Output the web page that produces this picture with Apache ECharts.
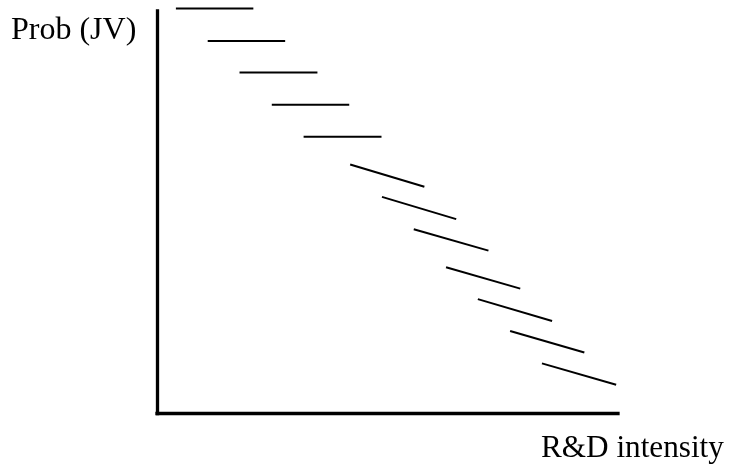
<!DOCTYPE html>
<html>
<head>
<meta charset="utf-8">
<script src="https://cdn.jsdelivr.net/npm/echarts@6/dist/echarts.min.js"></script>
<style>html,body{margin:0;padding:0;background:#fff;}#c{width:731px;height:465px;}</style>
</head>
<body>
<div id="c"></div>
<script>
// Segment endpoints in chart units (x: R&D intensity 0-100, y: Prob(JV) 0-100)
var segStartX = [4.1, 11.0, 17.9, 24.9, 31.8, 41.9, 48.8, 55.7, 62.7, 69.6, 76.6, 83.5];
var segEndX   = [20.9, 27.8, 34.8, 41.7, 48.7, 58.0, 64.9, 71.9, 78.8, 85.7, 92.7, 99.6];
var segStartY = [100.2, 92.2, 84.4, 76.4, 68.5, 61.6, 53.6, 45.6, 36.2, 28.3, 20.4, 12.4];
var segEndY   = [100.2, 92.2, 84.4, 76.4, 68.5, 56.1, 48.1, 40.3, 30.9, 22.9, 15.1, 7.1];
var yTitle = 'Prob (JV)';
var xTitle = 'R&D intensity';

var series = segStartX.map(function (x0, i) {
  return {
    type: 'line',
    data: [[x0, segStartY[i]], [segEndX[i], segEndY[i]]],
    symbol: 'none',
    clip: false,
    silent: true,
    lineStyle: { color: '#000', width: 2 }
  };
});

var chart = echarts.init(document.getElementById('c'));
chart.setOption({
  animation: false,
  backgroundColor: '#fff',
  grid: { left: 157, right: 113, top: 11, bottom: 51.5 },
  xAxis: {
    type: 'value', min: 0, max: 100,
    axisLine: { show: true, lineStyle: { color: '#000', width: 3.3, cap: 'square' } },
    axisTick: { show: false }, axisLabel: { show: false }, splitLine: { show: false }
  },
  yAxis: {
    type: 'value', min: 0, max: 99.6,
    axisLine: { show: true, lineStyle: { color: '#000', width: 3.3, cap: 'square' } },
    axisTick: { show: false }, axisLabel: { show: false }, splitLine: { show: false }
  },
  graphic: [
    { type: 'text', left: 11, top: 15, style: { text: yTitle, fill: '#000', font: '32px "Liberation Serif", "Times New Roman", serif' } },
    { type: 'text', left: 541, top: 433, style: { text: xTitle, fill: '#000', font: '31.2px "Liberation Serif", "Times New Roman", serif' } }
  ],
  series: series
});
</script>
</body>
</html>
